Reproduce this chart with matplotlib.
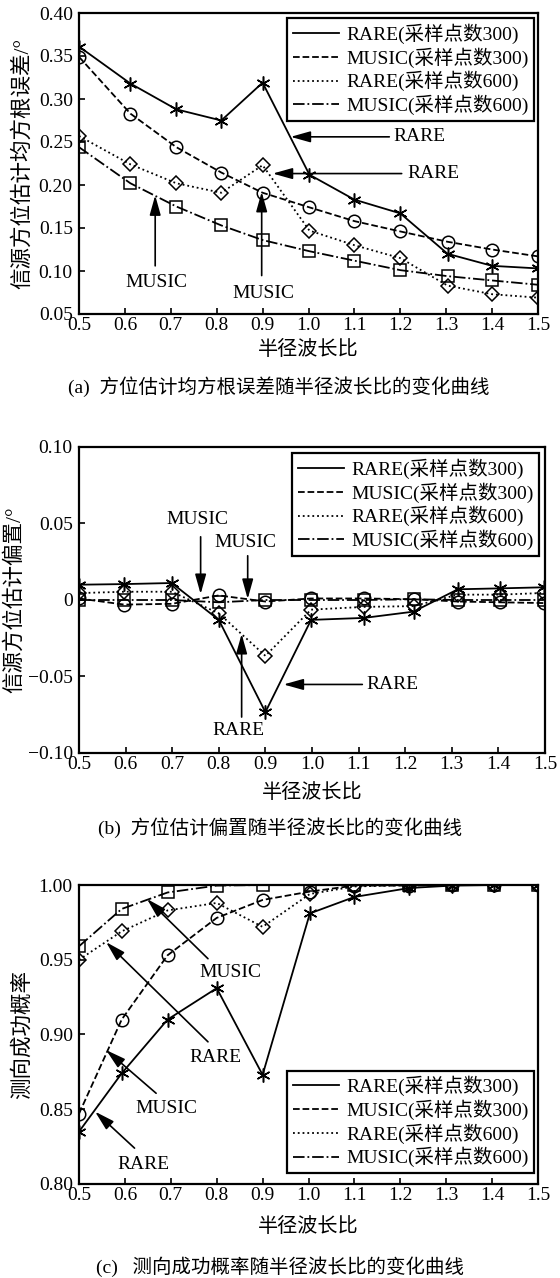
import matplotlib
matplotlib.use("Agg")
import matplotlib.pyplot as plt
from matplotlib.lines import Line2D

plt.rcParams["font.family"] = ["Liberation Serif", "Noto Sans CJK SC"]
plt.rcParams["axes.unicode_minus"] = True

# ---------------- data ----------------
series_names = ["RARE(采样点数300)", "MUSIC(采样点数300)",
                "RARE(采样点数600)", "MUSIC(采样点数600)"]

# (a) RMSE of bearing estimate
ratio_a = [0.50, 0.612, 0.712, 0.81, 0.90, 1.002, 1.10, 1.20, 1.303, 1.40, 1.50]
rmse_rare300 = [0.361, 0.318, 0.288, 0.275, 0.319, 0.212, 0.183, 0.167, 0.120, 0.106, 0.103]
rmse_music300 = [0.349, 0.283, 0.244, 0.2145, 0.191, 0.174, 0.158, 0.146, 0.134, 0.125, 0.117]
rmse_rare600 = [0.257, 0.224, 0.202, 0.191, 0.223, 0.147, 0.130, 0.115, 0.083, 0.073, 0.069]
rmse_music600 = [0.244, 0.202, 0.175, 0.153, 0.136, 0.123, 0.112, 0.101, 0.094, 0.089, 0.084]

# (b) bias of bearing estimate
ratio_b = [0.50, 0.597, 0.699, 0.80, 0.90, 0.998, 1.112, 1.218, 1.313, 1.403, 1.497]
bias_rare300 = [0.010, 0.0104, 0.0111, -0.013, -0.0733, -0.013, -0.0117, -0.0076, 0.007, 0.0076, 0.0083]
bias_music300 = [0.001, -0.003, -0.0025, 0.003, -0.001, 0.001, 0.001, 0.0005, -0.001, -0.0015, -0.002]
bias_rare600 = [0.0045, 0.0054, 0.0054, -0.0087, -0.0365, -0.0063, -0.0045, -0.0040, 0.0035, 0.0035, 0.0046]
bias_music600 = [0.0, 0.0, 0.0, -0.0015, 0.0, 0.0, 0.0, 0.0005, 0.0, 0.0, 0.0]

# (c) probability of successful direction finding
ratio_c = [0.50, 0.593, 0.693, 0.80, 0.90, 1.003, 1.10, 1.22, 1.313, 1.405, 1.50]
prob_rare300 = [0.835, 0.874, 0.910, 0.931, 0.873, 0.981, 0.992, 0.998, 0.9996, 1.0, 1.0]
prob_music300 = [0.847, 0.910, 0.953, 0.978, 0.990, 0.9956, 0.9996, 0.9996, 1.0, 1.0, 1.0]
prob_rare600 = [0.950, 0.969, 0.983, 0.988, 0.972, 0.994, 0.999, 1.0, 1.0, 1.0, 1.0]
prob_music600 = [0.959, 0.984, 0.995, 0.9996, 1.0, 1.0, 1.0, 1.0, 1.0, 1.0, 1.0]

x_ticks = [0.5, 0.6, 0.7, 0.8, 0.9, 1.0, 1.1, 1.2, 1.3, 1.4, 1.5]
yticks_a = [0.05, 0.10, 0.15, 0.20, 0.25, 0.30, 0.35, 0.40]
yticks_b = [-0.10, -0.05, 0.0, 0.05, 0.10]
yticks_c = [0.80, 0.85, 0.90, 0.95, 1.00]

# ---------------- styling ----------------
line_styles = [
    dict(ls="-", marker=(6, 2, 0), ms=10, mew=1.1),
    dict(ls="--", marker="o", ms=9, mew=1.1),
    dict(ls=":", marker="D", ms=7.2, mew=1.1),
    dict(ls="-.", marker="s", ms=8, mew=1.1),
]
LW = 1.3
FS = 14

fig = plt.figure(figsize=(5.6, 12.78), dpi=100)
W, H = 560.0, 1278.0


def make_axes(left, right, top, bottom):
    return fig.add_axes([left / W, 1 - bottom / H, (right - left) / W, (bottom - top) / H])


def style_axes(ax, yticks, ylim, ylabel, ylabel_x, xlabel_y, ylab_fmt):
    ax.set_xlim(0.5, 1.5)
    ax.set_ylim(*ylim)
    ax.set_xticks(x_ticks)
    ax.set_xticklabels([f"{v:.1f}" for v in x_ticks])
    ax.set_yticks(yticks)
    ax.set_yticklabels([ylab_fmt(v) for v in yticks])
    ax.tick_params(direction="in", length=4, width=1.2, labelsize=FS,
                   top=False, right=False)
    ax.tick_params(axis="x", pad=2.5)
    ax.tick_params(axis="y", pad=4.5)
    for sp in ax.spines.values():
        sp.set_linewidth(1.6)
    ax.set_ylabel(ylabel, fontsize=15.5)
    ax.yaxis.set_label_coords(ylabel_x, 0.5)
    ax.set_xlabel("半径波长比", fontsize=14.5)
    ax.xaxis.set_label_coords(0.5, xlabel_y)


def draw_series(ax, x, ys):
    for y, st in zip(ys, line_styles):
        ax.plot(x, y, color="black", lw=LW, ls=st["ls"], marker=st["marker"],
                ms=st["ms"], mew=st["mew"], mfc="none", mec="black")


def add_legend(ax, loc, anchor):
    handles = [Line2D([], [], color="black", lw=LW, ls=st["ls"]) for st in line_styles]
    leg = ax.legend(handles, series_names, loc=loc, bbox_to_anchor=anchor,
                    fontsize=FS, frameon=True, fancybox=False, framealpha=1,
                    edgecolor="black", handlelength=2.4, handletextpad=0.35,
                    labelspacing=0.17, borderpad=0.28, borderaxespad=0.0)
    leg.get_frame().set_linewidth(1.6)


def arrow(ax, tail, tip, text=None, text_pos=None):
    ax.annotate("", xy=tip, xytext=tail,
                arrowprops=dict(arrowstyle="-|>,head_length=1.0,head_width=0.28",
                                mutation_scale=12, lw=1.2, color="black",
                                shrinkA=0, shrinkB=0))
    if text:
        ax.text(text_pos[0], text_pos[1], text, ha="center", va="center", fontsize=FS)


fmt2 = lambda v: f"{v:.2f}"


def fmt_bias(v):
    return "0" if abs(v) < 1e-9 else f"{v:.2f}".replace("-", "\u2212")


# ---------------- panel (a) ----------------
ax1 = make_axes(79, 538, 13, 314)
draw_series(ax1, ratio_a, [rmse_rare300, rmse_music300, rmse_rare600, rmse_music600])
style_axes(ax1, yticks_a, (0.05, 0.40), "信源方位估计均方根误差/°", -0.100, -0.088, fmt2)
add_legend(ax1, "upper right", (0.991, 0.983))
arrow(ax1, (1.176, 0.256), (0.961, 0.256), "RARE", (1.242, 0.256))
arrow(ax1, (1.203, 0.2133), (0.922, 0.2133), "RARE", (1.273, 0.2133))
arrow(ax1, (0.666, 0.106), (0.666, 0.188), "MUSIC", (0.668, 0.087))
arrow(ax1, (0.898, 0.0947), (0.898, 0.192), "MUSIC", (0.902, 0.074))
fig.text(0.497, 1 - 387 / H, "(a)  方位估计均方根误差随半径波长比的变化曲线",
         ha="center", va="center", fontsize=14)

# ---------------- panel (b) ----------------
ax2 = make_axes(79, 545, 447, 753)
draw_series(ax2, ratio_b, [bias_rare300, bias_music300, bias_rare600, bias_music600])
style_axes(ax2, yticks_b, (-0.10, 0.10), "信源方位估计偏置/°", -0.116, -0.100, fmt_bias)
add_legend(ax2, "upper right", (0.987, 0.980))
arrow(ax2, (0.761, 0.0413), (0.761, 0.0039), "MUSIC", (0.755, 0.0528))
arrow(ax2, (0.862, 0.0289), (0.862, 0.0007), "MUSIC", (0.857, 0.0376))
arrow(ax2, (0.849, -0.0765), (0.849, -0.0222), "RARE", (0.842, -0.0852))
arrow(ax2, (1.108, -0.0552), (0.939, -0.0552), "RARE", (1.173, -0.0552))
fig.text(0.5, 1 - 828 / H, "(b)  方位估计偏置随半径波长比的变化曲线",
         ha="center", va="center", fontsize=14)

# ---------------- panel (c) ----------------
ax3 = make_axes(79, 538, 885, 1184)
draw_series(ax3, ratio_c, [prob_rare300, prob_music300, prob_rare600, prob_music600])
style_axes(ax3, yticks_c, (0.80, 1.00), "测向成功概率", -0.100, -0.112, fmt2)
add_legend(ax3, "lower right", (0.991, 0.037))
arrow(ax3, (0.781, 0.9507), (0.648, 0.9907), "MUSIC", (0.830, 0.9418))
arrow(ax3, (0.781, 0.8951), (0.559, 0.9618), "RARE", (0.797, 0.8844))
arrow(ax3, (0.668, 0.8607), (0.559, 0.8896), "MUSIC", (0.691, 0.8502))
arrow(ax3, (0.621, 0.824), (0.535, 0.8484), "RARE", (0.641, 0.8133))
fig.text(0.5, 1 - 1267 / H, "(c)   测向成功概率随半径波长比的变化曲线",
         ha="center", va="center", fontsize=14)

fig.savefig("out.png", dpi=100, facecolor="white")
